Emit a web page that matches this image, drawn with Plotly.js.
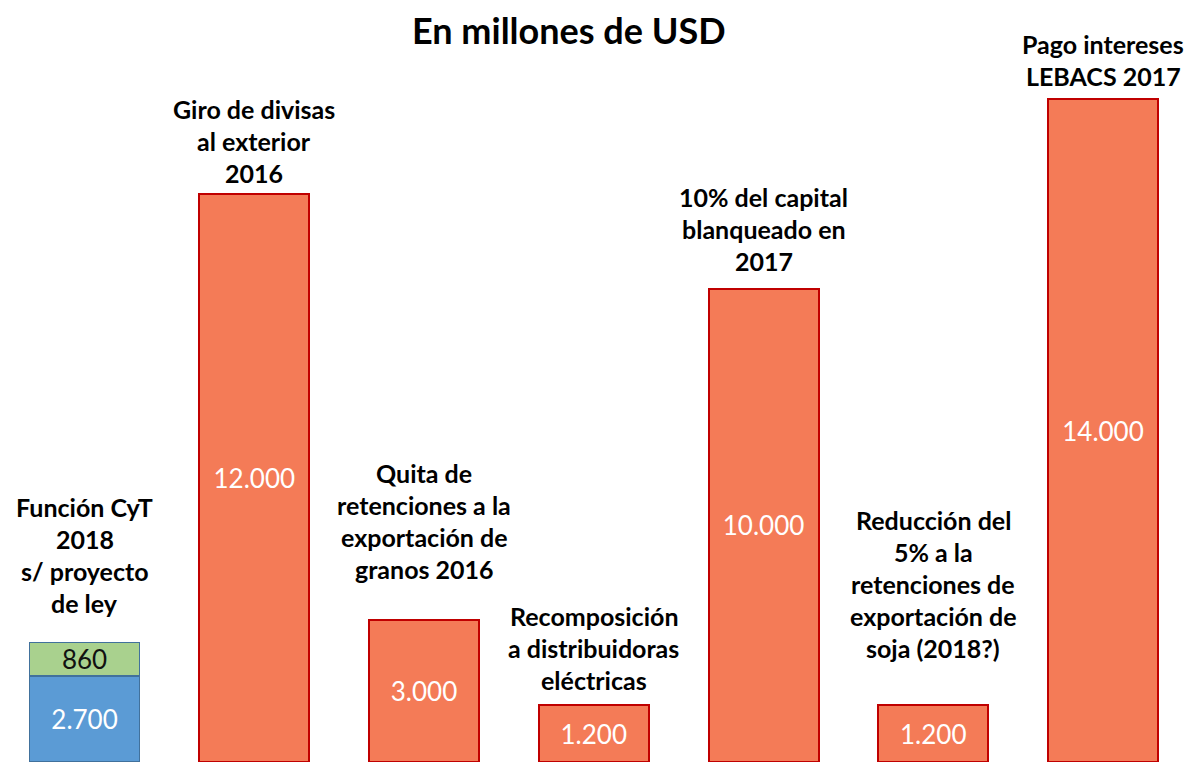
<!DOCTYPE html>
<html>
<head>
<meta charset="utf-8">
<script src="https://cdn.plot.ly/plotly-3.0.1.min.js"></script>
<style>html,body{margin:0;padding:0;background:#fff;}#chart{width:1185px;height:762px;}</style>
</head>
<body>
<div id="chart"></div>
<script>
// ---- data ----
var categories = ["CyT", "Giro", "Quita", "Recomp", "Blanqueo", "Soja", "LEBACS"];
var categoryLabels = [
  "Función CyT<br>2018<br>s/ proyecto<br>de ley",
  "Giro de divisas<br>al exterior<br>2016",
  "Quita de<br>retenciones a la<br>exportación de<br>granos 2016",
  "Recomposición<br>a distribuidoras<br>eléctricas",
  "10% del capital<br>blanqueado en<br>2017",
  "Reducción del<br>5% a la<br>retenciones de<br>exportación de<br>soja (2018?)",
  "Pago intereses<br>LEBACS 2017"
];
// orange bars (millones de USD)
var costCategories = ["Giro", "Quita", "Recomp", "Blanqueo", "Soja", "LEBACS"];
var costValues = [12000, 3000, 1200, 10000, 1200, 14000];
// CyT budget: printed amounts, and bar heights as drawn in the source picture
var cytAmounts = [2700, 860];            // printed labels: base, extra
var cytDrawnHeights = [1820, 700];       // heights as drawn in the source chart
var chartTitle = "En millones de USD";

// ---- style ----
var orange = "#F47B57", orangeLine = "#C00000";
var blue = "#5B9BD5", green = "#A9D18E", blueLine = "#41719C";
var labelFont = "Lato, 'Open Sans', sans-serif";
var labelOffsets = [88, 53, 99, 57, 60, 121, 39]; // px from bar top to label block centre
var lineSpacing = 32;

function fmt(v){ return v.toLocaleString('de-DE'); }

var traces = [
  {type:"bar", x:["CyT"], y:[cytDrawnHeights[0]], text:[fmt(cytAmounts[0])],
   marker:{color:blue, line:{color:blueLine, width:1.5}},
   textposition:"inside", insidetextanchor:"middle", textangle:0, constraintext:"none",
   textfont:{color:"#fff", size:26, family:labelFont}, hoverinfo:"skip", cliponaxis:false},
  {type:"bar", x:["CyT"], y:[cytDrawnHeights[1]], text:[fmt(cytAmounts[1])],
   marker:{color:green, line:{color:blueLine, width:1.5}},
   textposition:"inside", insidetextanchor:"middle", textangle:0, constraintext:"none",
   textfont:{color:"#111", size:26, family:labelFont}, hoverinfo:"skip", cliponaxis:false},
  {type:"bar", x:costCategories, y:costValues, text:costValues.map(fmt),
   marker:{color:orange, line:{color:orangeLine, width:2}},
   textposition:"inside", insidetextanchor:"middle", textangle:0, constraintext:"none",
   textfont:{color:"#fff", size:26, family:labelFont}, hoverinfo:"skip"}
];

var tops = categories.map(function(c){
  if (c === "CyT") return cytDrawnHeights[0] + cytDrawnHeights[1];
  return costValues[costCategories.indexOf(c)];
});

var annotations = [];
categories.forEach(function(c, i){
  var lines = categoryLabels[i].split("<br>");
  var n = lines.length;
  lines.forEach(function(t, j){
    annotations.push({
      x:c, y:tops[i], xref:"x", yref:"y", text:"<b>"+t+"</b>", showarrow:false,
      xanchor:"center", yanchor:"middle",
      yshift: labelOffsets[i] + ((n-1)/2 - j) * lineSpacing,
      font:{family:labelFont, size:25, color:"#000"}
    });
  });
});
annotations.push({
  x:0.48, y:1 - 30/762, xref:"paper", yref:"paper", text:"<b>"+chartTitle+"</b>", showarrow:false,
  xanchor:"center", yanchor:"middle", font:{family:labelFont, size:36, color:"#000"}
});

var layout = {
  width:1185, height:762,
  margin:{l:0, r:0, t:0, b:0, pad:0},
  paper_bgcolor:"#fff", plot_bgcolor:"#fff",
  barmode:"stack", bargap:0.352, showlegend:false,
  xaxis:{type:"category", range:[-0.498, 6.483], visible:false, fixedrange:true},
  yaxis:{range:[0, 16100], visible:false, fixedrange:true},
  annotations:annotations
};

Plotly.newPlot("chart", traces, layout, {staticPlot:true, displayModeBar:false});
</script>
</body>
</html>
